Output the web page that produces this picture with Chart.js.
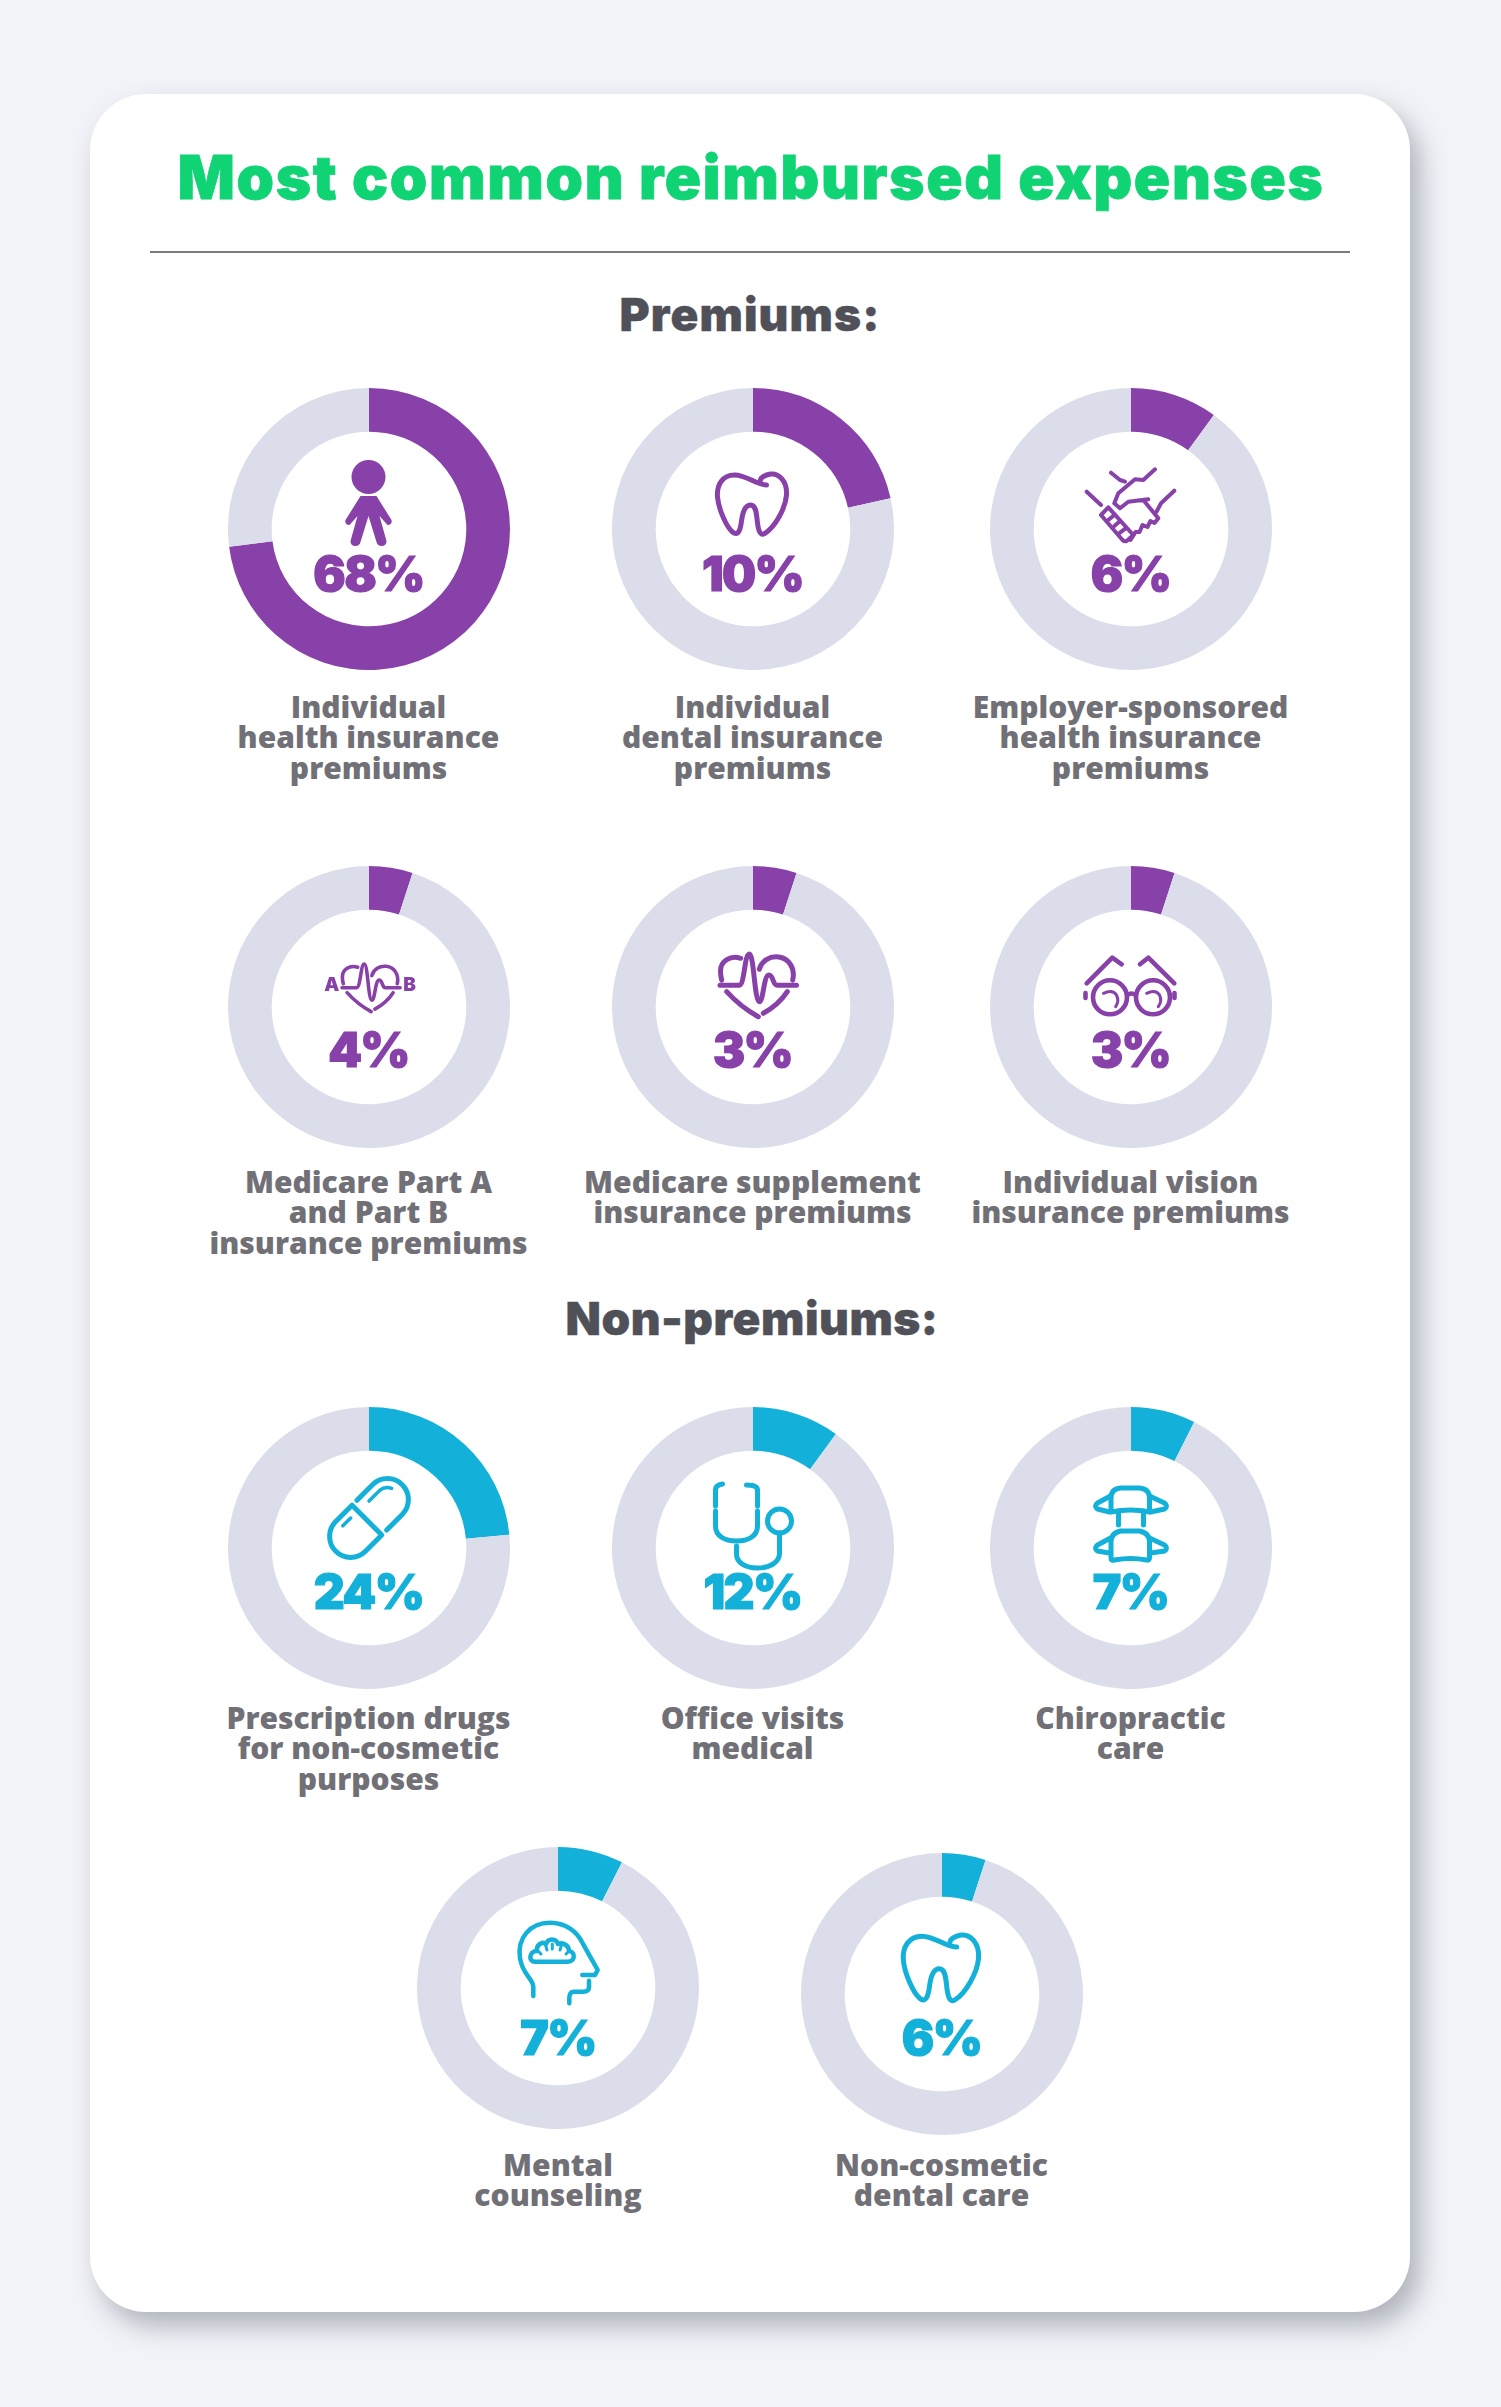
<!DOCTYPE html>
<html><head><meta charset="utf-8">
<script src="https://cdn.jsdelivr.net/npm/chart.js@4"></script>
<style>
html,body{margin:0;padding:0;background:#f1f3f8;}
body{position:relative;width:1501px;height:2407px;overflow:hidden;font-family:"Open Sans",sans-serif;}
#card{position:absolute;left:90px;top:94px;width:1320px;height:2218px;background:#fff;border-radius:56px;box-shadow:10px 14px 26px rgba(85,90,105,.42);}
#rule{position:absolute;left:150px;top:251px;width:1200px;height:2px;background:#7c7c7c;}
.t{position:absolute;white-space:nowrap;text-align:center;transform:translateX(-50%);}
#title{left:751px;top:141px;font:900 60px/72px Inter,sans-serif;color:#10d374;-webkit-text-stroke:.8px #10d374;}
.head{font:900 46px/54px Inter,sans-serif;color:#4f5058;-webkit-text-stroke:.4px #4f5058;}
.pct{font:900 48px/56px Inter,sans-serif;letter-spacing:-1.6px;-webkit-text-stroke:1.2px currentColor;}
.lab{font:800 30px/30.4px "Open Sans",sans-serif;color:#707076;}
canvas{position:absolute;}
#icons{position:absolute;left:0;top:0;}
#icons *{fill:none;stroke-linecap:round;stroke-linejoin:round;}
#icons .f{fill:currentColor;stroke:none;}
</style></head><body>
<div id="card"></div><div id="rule"></div>
<div class="t" id="title" data-w="1147">Most common reimbursed expenses</div>
<div class="t head" data-w="261" style="left:750px;top:287px">Premiums:</div>
<div class="t head" data-w="373" style="left:752px;top:1291px">Non-premiums:</div>
<svg id="icons" width="1501" height="2407" xmlns="http://www.w3.org/2000/svg"></svg>
<script>
// ---- data ----
const categories = [
 "Individual\nhealth insurance\npremiums","Individual\ndental insurance\npremiums","Employer-sponsored\nhealth insurance\npremiums",
 "Medicare Part A\nand Part B\ninsurance premiums","Medicare supplement\ninsurance premiums","Individual vision\ninsurance premiums",
 "Prescription drugs\nfor non-cosmetic\npurposes","Office visits\nmedical","Chiropractic\ncare",
 "Mental\ncounseling","Non-cosmetic\ndental care"];
const printedPercents = [68,10,6,4,3,3,24,12,7,7,6];
const drawnArcShares  = [73,21.5,10,5,5,5,23.5,10,7.4,7.5,5];
const groups = ["p","p","p","p","p","p","n","n","n","n","n"];

// ---- layout ----
const centersX = [368.5,752.5,1130.5,368.5,752.5,1130.5,368.5,752.5,1130.5,558,941.5];
const centersY = [529,529,529,1007,1007,1007,1548,1548,1548,1988,1994];
const pctY     = [573.5,573.5,573.5,1050,1050,1050,1592,1592,1592,2038,2038];
const labelTop = [692,692,692,1167,1167,1167,1703,1703,1703,2150,2150];
const colors = {p:"#8741a9",n:"#13b1d9"}, ring="#dbdeea";
const R = 141;

const toothD = "M14 -44C4 -44 -6 -54 -18 -54C-30 -54 -36 -44 -35 -32C-34 -20 -26 -2 -20 3C-14 8 -12 0 -11 -8C-10 -16 -8 -24 -2 -24C4 -24 4 -14 5 -6C6 2 8 8 13 4C22 -2 33 -20 34 -34C35 -48 26 -56 18 -55C12 -54 8 -51 8 -49";
const heartD = "M-11.8 -48.7C-22 -52 -32 -46 -32 -36Q-32 -31 -30.8 -27M6.8 -37.7C9 -46 17 -51 26 -50C36 -49 43 -39 40.2 -27M-25.8 -15.3Q-12 0 5.8 9.7M34.8 -15.3Q26 -2 10.8 6.3M-32.5 -21.7H-13.2C-8 -22 -8 -53 -3.2 -53C1.5 -53 2 -5.3 6.8 -5.3C11 -5.3 11 -32 16.5 -32C21 -32 20 -21.7 24.8 -21.7H44";
const icons = {
 person:`<circle class="f" cx="0" cy="-52" r="17"/><path class="f" d="M-8 -33H8L23 -9Q24 -4 19 -4L11 -13L18 12Q18 17 13 17Q9 17 8 13L0 -13L-8 13Q-9 17 -13 17Q-18 17 -18 12L-11 -13L-19 -4Q-24 -4 -23 -9Z"/>`,
 tooth:`<path stroke-width="5" d="${toothD}"/>`,
 shake:`<g stroke-width="4"><path d="M-43.8 -37.3L-29.5 -24M-19.5 -56.3L-10.5 -49L-5.5 -47.3M43.8 -38.3L30.5 -25.7L26 -17.3"/><path d="M24.5 -59.7L12.8 -49L4.5 -49.7L-12.2 -35.7L-16.2 -25.7L-10.5 -20.7L-2.2 -27.3L17.8 -29.7M12.8 -29L27.8 -10.7L24 -6L20 -8L17 -2L12 -4L9 3L5 3L0 11"/><path d="M-29.5 -14L-22.2 -21.7L2.8 6L-3.8 12Q-6 13 -8 11Z"/><path d="M-22.2 -9L-16.2 -14M-16.2 -3L-11.2 -7.3M-10.5 3.7L-4.8 -.7"/></g>`,
 heart:`<path stroke-width="5" d="${heartD}"/>`,
 heartAB:`<g transform="translate(-1.8 -2.7) scale(.76)"><path stroke-width="4.7" d="${heartD}"/></g>`,
 glasses:`<g stroke-width="4.6"><circle cx="-20.5" cy="-9.7" r="17"/><circle cx="22.5" cy="-9.7" r="17"/><path d="M-43.8 -23.7L-18.2 -49.3L-8.8 -42.7M43.8 -23.7L17.8 -49.3L9.5 -42.7M-3 -12Q1 -15 5 -12M-45 -14V-9M44 -14V-9"/></g><path stroke-width="3" d="M-27 -13.7Q-18 -18 -14 -12Q-11 -6 -14.8 -.3M16.2 -13.7Q25 -18 29 -12Q32 -6 27.8 -.3"/>`,
 pill:`<g stroke-width="5"><g transform="rotate(-45)"><path d="M-3 -21H-26A21 21 0 0 0 -26 21H-3L-3 -21"/><path d="M4 21H26A21 21 0 0 0 26 -21H4"/><path d="M12 -12H27A12 12 0 0 1 37 -5" stroke-width="3.5"/><path d="M-24 -13H-13" stroke-width="3.5"/></g></g>`,
 steth:`<g stroke-width="5"><path d="M-30 -64Q-37 -63 -37 -58V-42M-6 -63Q5 -63 5 -58V-42M-37 -37V-22C-37 -12 -28 -7 -16 -7C-4 -7 5 -12 5 -22V-37"/><path d="M-16 -2V6C-16 14 -8 20 5 20C18 20 27 14 27 5V-15"/><circle cx="27" cy="-27" r="12"/></g>`,
 spine:`<g stroke-width="5"><path d="M-19.5 -36V-50Q-19.5 -59 -10 -60H9Q19 -59 19 -50V-36Q0 -40 -19.5 -36Z"/><path d="M-20 -52L-33 -45Q-37 -42 -33 -39L-21 -36M19 -52L34 -45Q38 -42 34 -39L20 -36M-12 -37V-23M13 -37V-23"/><path d="M-19.5 -6Q-19.5 -15 -10 -17H9Q19 -15 19 -6V10Q19 13 16 12Q0 9 -16 12Q-19.5 13 -19.5 10Z"/><path d="M-20 -10L-33 -3Q-37 0 -33 3L-21 5M19 -10L34 -3Q38 0 34 3L20 5"/></g>`,
 head:`<g stroke-width="4.5"><path d="M-24.7 8V-1.3C-24.7 -9 -36 -14 -38 -30C-41 -50 -28 -65.3 -8 -65.3C8 -65.3 19 -56 24 -46L30.3 -34.7L39.7 -18L37 -13H24.3M31 -7.3V-1Q31 3.7 25.3 3.7H16Q11.3 3.7 11.3 10V15.3"/><path d="M-23 -26.3H10C17 -26.3 18 -36 11 -37C11 -43 4 -46 0 -44C-2 -50 -10 -50 -12 -44C-16 -47 -22 -43 -21 -37C-29 -37 -30 -26.3 -23 -26.3Z"/><path stroke-width="3" d="M-17 -34L-20 -37M-11 -38L-12.5 -43M-5.7 -39V-44M2 -38L3.5 -43M8 -34L11 -37"/></g>`,
 toothBig:`<g transform="translate(0 1) scale(1.09)"><path stroke-width="4.6" d="${toothD}"/></g>`
};
const iconPlace = ["person","tooth","shake","heartAB","heart","glasses","pill","steth","spine","head","toothBig"];
const iconShift = [[0,0],[0,0],[0,0],[0,0],[0,0],[0,0],[0.5,-30],[0,0],[0,0],[0,0],[0,0]];

let svgHtml = "";
categories.forEach((cat,i)=>{
  const col = colors[groups[i]], cx=centersX[i], cy=centersY[i];
  const c = document.createElement("canvas");
  c.style.left=(cx-R)+"px"; c.style.top=(cy-R)+"px";
  c.style.width=(2*R)+"px"; c.style.height=(2*R)+"px";
  c.width=2*R; c.height=2*R;
  document.body.appendChild(c);
  new Chart(c,{type:"doughnut",
    data:{labels:[cat.replace(/\n/g," "),"Other"],datasets:[{data:[drawnArcShares[i],100-drawnArcShares[i]],backgroundColor:[col,ring],borderWidth:0,hoverOffset:0}]},
    options:{responsive:false,animation:false,devicePixelRatio:1,cutout:"69%",plugins:{legend:{display:false},tooltip:{enabled:false}}}});
  const p=document.createElement("div"); p.className="t pct"; p.textContent=printedPercents[i]+"%";
  p.style.left=cx+"px"; p.style.top=(pctY[i]-28)+"px"; p.style.color=col; document.body.appendChild(p);
  const l=document.createElement("div"); l.className="t lab"; l.innerHTML=cat.split("\n").join("<br>");
  l.style.left=cx+"px"; l.style.top=labelTop[i]+"px"; document.body.appendChild(l);
  const [dx,dy]=iconShift[i];
  svgHtml+=`<g color="${col}" stroke="${col}" transform="translate(${cx+dx} ${cy+dy})">${icons[iconPlace[i]]}</g>`;
});
document.getElementById("icons").innerHTML=svgHtml;
["A","B"].forEach((ch,k)=>{
  const a=document.createElement("div"); a.className="t"; a.textContent=ch;
  a.style.cssText=`left:${k?409.5:331.7}px;top:973px;font:900 19px/24px Inter,sans-serif;color:${colors.p}`;
  document.body.appendChild(a);
});
document.querySelectorAll("[data-w]").forEach(el=>{
  const n=el.textContent.length, w=el.getBoundingClientRect().width, target=+el.dataset.w;
  el.style.letterSpacing=((target-w)/n)+"px";
});
</script>
</body></html>
